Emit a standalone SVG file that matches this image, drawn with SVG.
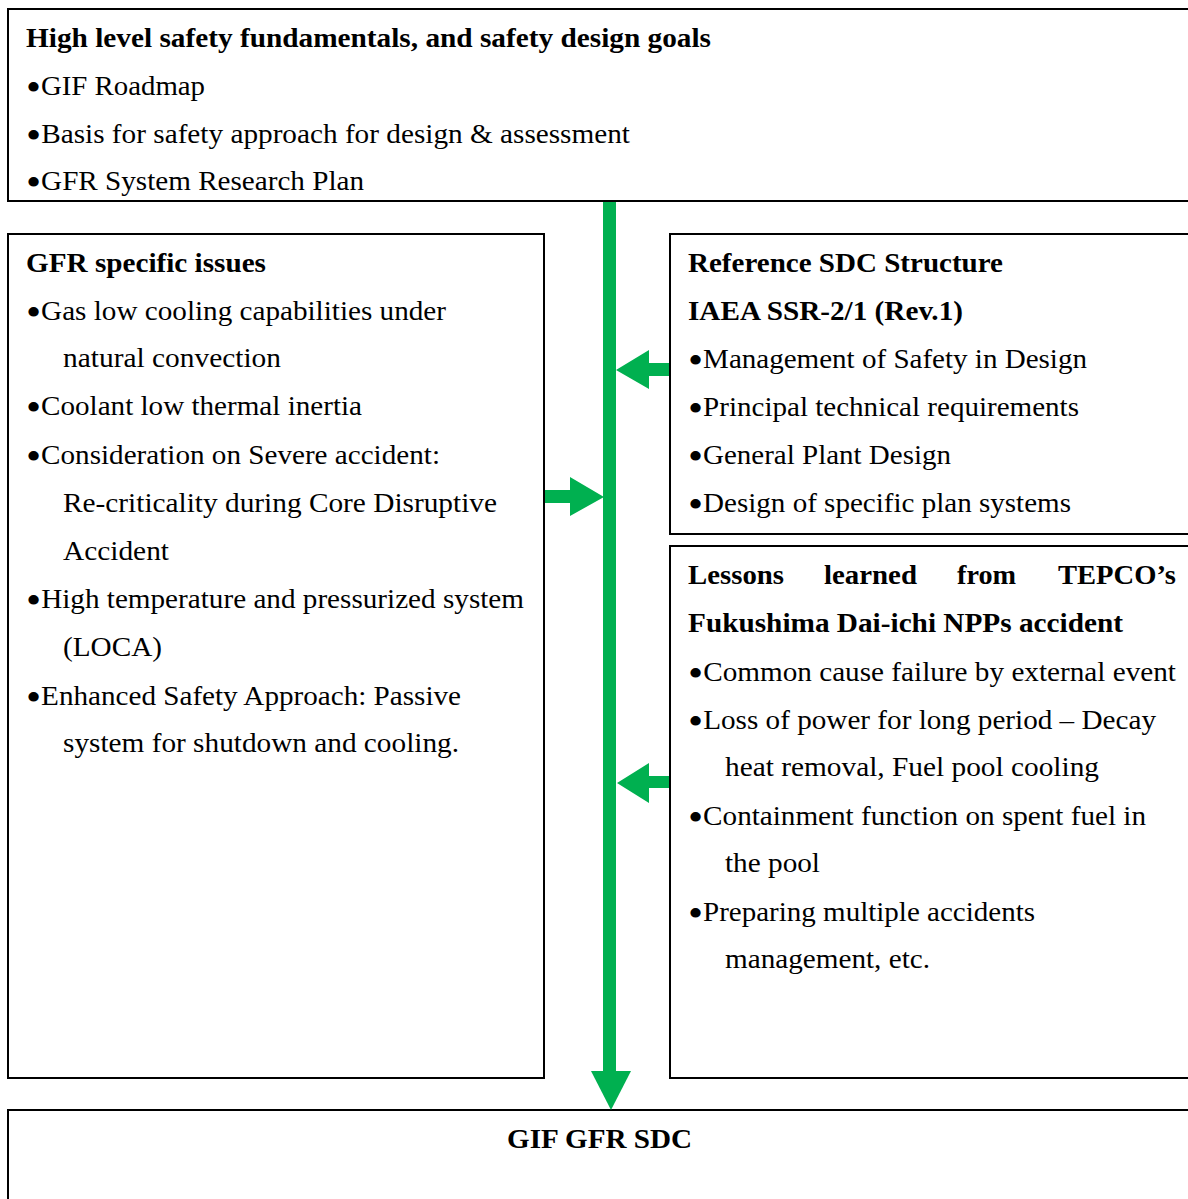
<svg xmlns="http://www.w3.org/2000/svg" width="1188" height="1199" viewBox="0 0 1188 1199">
<style>
.box{fill:#fff;stroke:#000;stroke-width:2}
text{font-family:"Liberation Serif","Times New Roman",serif;font-size:27px;fill:#000}
.b{font-weight:bold}
.d{font-size:40px}
.g{fill:#00b050}
</style>
<rect width="1188" height="1199" fill="#fff"/>
<g id="top">
<rect class="box" x="8" y="9" width="1200" height="192"/>
<text class="b" x="26" y="47" textLength="685" lengthAdjust="spacingAndGlyphs">High level safety fundamentals, and safety design goals</text>
<text x="26" y="95" textLength="179" lengthAdjust="spacingAndGlyphs"><tspan class="d" dy="6">•</tspan><tspan dy="-6">GIF Roadmap</tspan></text>
<text x="26" y="143" textLength="604" lengthAdjust="spacingAndGlyphs"><tspan class="d" dy="6">•</tspan><tspan dy="-6">Basis for safety approach for design &amp; assessment</tspan></text>
<text x="26" y="190" textLength="338" lengthAdjust="spacingAndGlyphs"><tspan class="d" dy="6">•</tspan><tspan dy="-6">GFR System Research Plan</tspan></text>
</g>
<g id="gfr">
<rect class="box" x="8" y="234" width="536" height="844"/>
<text class="b" x="26" y="272" textLength="240" lengthAdjust="spacingAndGlyphs">GFR specific issues</text>
<text x="26" y="320" textLength="420" lengthAdjust="spacingAndGlyphs"><tspan class="d" dy="6">•</tspan><tspan dy="-6">Gas low cooling capabilities under</tspan></text>
<text x="63" y="367" textLength="218" lengthAdjust="spacingAndGlyphs">natural convection</text>
<text x="26" y="415" textLength="336" lengthAdjust="spacingAndGlyphs"><tspan class="d" dy="6">•</tspan><tspan dy="-6">Coolant low thermal inertia</tspan></text>
<text x="26" y="464" textLength="414" lengthAdjust="spacingAndGlyphs"><tspan class="d" dy="6">•</tspan><tspan dy="-6">Consideration on Severe accident:</tspan></text>
<text x="63" y="512" textLength="434" lengthAdjust="spacingAndGlyphs">Re-criticality during Core Disruptive</text>
<text x="63" y="560" textLength="106" lengthAdjust="spacingAndGlyphs">Accident</text>
<text x="26" y="608" textLength="498" lengthAdjust="spacingAndGlyphs"><tspan class="d" dy="6">•</tspan><tspan dy="-6">High temperature and pressurized system</tspan></text>
<text x="63" y="656" textLength="99" lengthAdjust="spacingAndGlyphs">(LOCA)</text>
<text x="26" y="705" textLength="435" lengthAdjust="spacingAndGlyphs"><tspan class="d" dy="6">•</tspan><tspan dy="-6">Enhanced Safety Approach: Passive</tspan></text>
<text x="63" y="752" textLength="396" lengthAdjust="spacingAndGlyphs">system for shutdown and cooling.</text>
</g>
<g id="ref">
<rect class="box" x="670" y="234" width="540" height="300"/>
<text class="b" x="688" y="272" textLength="315" lengthAdjust="spacingAndGlyphs">Reference SDC Structure</text>
<text class="b" x="688" y="320" textLength="275" lengthAdjust="spacingAndGlyphs">IAEA SSR-2/1 (Rev.1)</text>
<text x="688" y="368" textLength="399" lengthAdjust="spacingAndGlyphs"><tspan class="d" dy="6">•</tspan><tspan dy="-6">Management of Safety in Design</tspan></text>
<text x="688" y="416" textLength="391" lengthAdjust="spacingAndGlyphs"><tspan class="d" dy="6">•</tspan><tspan dy="-6">Principal technical requirements</tspan></text>
<text x="688" y="464" textLength="263" lengthAdjust="spacingAndGlyphs"><tspan class="d" dy="6">•</tspan><tspan dy="-6">General Plant Design</tspan></text>
<text x="688" y="512" textLength="383" lengthAdjust="spacingAndGlyphs"><tspan class="d" dy="6">•</tspan><tspan dy="-6">Design of specific plan systems</tspan></text>
</g>
<g id="lessons">
<rect class="box" x="670" y="546" width="540" height="532"/>
<text class="b" x="688" y="584" textLength="96" lengthAdjust="spacingAndGlyphs">Lessons</text>
<text class="b" x="824" y="584" textLength="93" lengthAdjust="spacingAndGlyphs">learned</text>
<text class="b" x="957" y="584" textLength="59" lengthAdjust="spacingAndGlyphs">from</text>
<text class="b" x="1058" y="584" textLength="118" lengthAdjust="spacingAndGlyphs">TEPCO’s</text>
<text class="b" x="688" y="632" textLength="435" lengthAdjust="spacingAndGlyphs">Fukushima Dai-ichi NPPs accident</text>
<text x="688" y="681" textLength="488" lengthAdjust="spacingAndGlyphs"><tspan class="d" dy="6">•</tspan><tspan dy="-6">Common cause failure by external event</tspan></text>
<text x="688" y="729" textLength="468" lengthAdjust="spacingAndGlyphs"><tspan class="d" dy="6">•</tspan><tspan dy="-6">Loss of power for long period – Decay</tspan></text>
<text x="725" y="776" textLength="374" lengthAdjust="spacingAndGlyphs">heat removal, Fuel pool cooling</text>
<text x="688" y="825" textLength="458" lengthAdjust="spacingAndGlyphs"><tspan class="d" dy="6">•</tspan><tspan dy="-6">Containment function on spent fuel in</tspan></text>
<text x="725" y="872" textLength="95" lengthAdjust="spacingAndGlyphs">the pool</text>
<text x="688" y="921" textLength="347" lengthAdjust="spacingAndGlyphs"><tspan class="d" dy="6">•</tspan><tspan dy="-6">Preparing multiple accidents</tspan></text>
<text x="725" y="968" textLength="205" lengthAdjust="spacingAndGlyphs">management, etc.</text>
</g>
<g id="sdc">
<rect class="box" x="8" y="1110" width="1200" height="120"/>
<text class="b" x="507" y="1148" textLength="185" lengthAdjust="spacingAndGlyphs">GIF GFR SDC</text>
</g>
<g id="connectors">
<rect class="g" x="603" y="202" width="13" height="870"/>
<polygon class="g" points="591,1071 631,1071 611,1110"/>
<polygon class="g" points="545,490 570,490 570,477 604,497 570,516 570,503 545,503"/>
<polygon class="g" points="669,363 649,363 649,350 616,370 649,389 649,376 669,376"/>
<polygon class="g" points="669,776 649,776 649,763 617,783 649,803 649,788 669,788"/>
</g>
</svg>
